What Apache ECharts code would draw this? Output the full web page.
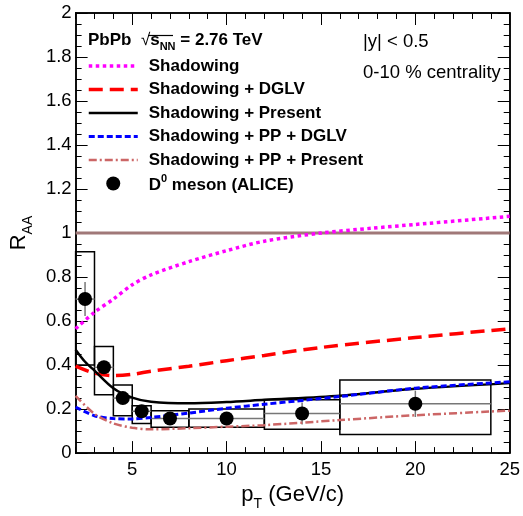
<!DOCTYPE html>
<html>
<head>
<meta charset="UTF-8">
<title>RAA D0 PbPb</title>
<script src="https://cdn.jsdelivr.net/npm/echarts@6.0.0/dist/echarts.min.js"></script>
<style>
html, body { margin: 0; padding: 0; background: #fff; }
#chart { width: 523px; height: 516px; }
</style>
</head>
<body>
<div id="chart"></div>
<script>
// model curves, [pT, RAA]
var shadowing = [[2, 0.565], [3, 0.64], [4, 0.70], [5, 0.765], [6, 0.81], [8, 0.87], [10, 0.92], [12, 0.963], [15, 1.0], [17.7, 1.022], [20, 1.039], [25, 1.076]];
var shadDglv = [[2, 0.395], [3, 0.363], [4, 0.352], [5, 0.358], [6, 0.372], [8, 0.395], [10, 0.42], [12, 0.444], [15, 0.48], [20, 0.525], [25, 0.565]];
var shadPresent = [[2, 0.47], [2.5, 0.415], [3, 0.375], [4, 0.295], [5, 0.252], [6, 0.233], [8, 0.226], [10, 0.232], [12, 0.242], [16, 0.261], [20, 0.292], [25, 0.318]];
var shadPpDglv = [[2, 0.209], [3, 0.17], [4, 0.157], [5, 0.155], [6, 0.162], [8, 0.182], [10, 0.204], [12, 0.222], [16, 0.257], [20, 0.295], [25, 0.324]];
var shadPpPresent = [[2, 0.26], [3, 0.178], [4, 0.135], [5, 0.115], [6, 0.108], [8, 0.113], [10, 0.12], [12, 0.127], [16, 0.15], [20, 0.172], [25, 0.193]];

// ALICE D0 points
var binLo = [2, 3, 4, 5, 6, 8, 12, 16];
var binHi = [3, 4, 5, 6, 8, 12, 16, 24];
var dPt = [2.5, 3.5, 4.5, 5.5, 7, 10, 14, 20];
var dRaa = [0.70, 0.39, 0.25, 0.19, 0.157, 0.157, 0.18, 0.224];
var dStat = [0.077, 0.03, 0.02, 0.015, 0.012, 0.012, 0.05, 0.06];
var dSysLo = [0.40, 0.265, 0.17, 0.135, 0.117, 0.117, 0.108, 0.085];
var dSysHi = [0.915, 0.485, 0.31, 0.215, 0.193, 0.20, 0.242, 0.332];

// axis ticks
var xMajor = [5, 10, 15, 20, 25];
var unityLine = [[2, 1], [25, 1]];

var FONT = 'Liberation Sans, Arial, sans-serif';
var names = ['Shadowing', 'Shadowing + DGLV', 'Shadowing + Present', 'Shadowing + PP + DGLV', 'Shadowing + PP + Present', 'D0 meson (ALICE)'];

// line styles: color, width, dash
var styles = [
	['#ff00ff', 3.5, [3.5, 3.5]],
	['#ff0000', 3.5, [14, 7]],
	['#000000', 2.5, 'solid'],
	['#0000ff', 3, [6, 3]],
	['#cc6666', 2.5, [8, 3, 2, 3]]
];

var boxes = [], errs = [], points = [];
for (var i = 0; i < dPt.length; i++) {
	boxes.push([binLo[i], binHi[i], dSysLo[i], dSysHi[i]]);
	errs.push([binLo[i], binHi[i], dPt[i], dRaa[i], dStat[i]]);
	points.push([dPt[i], dRaa[i]]);
}

// legend entries: hide the symbol on the line samples
var legendData = [];
for (var k = 0; k < names.length; k++) {
	if (k < 5) {
		legendData.push({ name: names[k], itemStyle: { opacity: 0 }, lineStyle: { width: styles[k][1] } });
	} else {
		legendData.push({ name: names[k], icon: 'circle', itemStyle: { color: '#000', opacity: 1 } });
	}
}

function renderBox(params, api) {
	var p0 = api.coord([api.value(0), api.value(2)]);
	var p1 = api.coord([api.value(1), api.value(3)]);
	return {
		type: 'rect',
		shape: { x: p0[0], y: p1[1], width: p1[0] - p0[0], height: p0[1] - p1[1] },
		style: { fill: 'none', stroke: '#000', lineWidth: 1.5 }
	};
}

function renderErr(params, api) {
	var l = api.coord([api.value(0), api.value(3)]);
	var r = api.coord([api.value(1), api.value(3)]);
	var t = api.coord([api.value(2), api.value(3) + api.value(4)]);
	var b = api.coord([api.value(2), api.value(3) - api.value(4)]);
	var st = { stroke: '#777', lineWidth: 1.5 };
	return {
		type: 'group',
		children: [
			{ type: 'line', shape: { x1: l[0], y1: l[1], x2: r[0], y2: r[1] }, style: st },
			{ type: 'line', shape: { x1: t[0], y1: t[1], x2: b[0], y2: b[1] }, style: st }
		]
	};
}

function xAxisCfg(pos, major, withLabels) {
	var a = {
		type: 'value', position: pos, min: 2, max: 25,
		axisLine: { show: true, onZero: false, lineStyle: { color: '#000', width: 1.5 } },
		splitLine: { show: false },
		axisTick: { show: true, inside: true, length: major ? 12 : 6, lineStyle: { color: '#000', width: 1 } },
		axisLabel: { show: false }
	};
	if (major) {
		a.axisTick.customValues = xMajor;
		a.axisLabel = { show: false, customValues: xMajor };
	} else {
		a.interval = 1;
	}
	if (withLabels) {
		a.axisLabel = {
			show: true, customValues: xMajor, color: '#000', fontFamily: FONT, fontSize: 18.5, margin: 7
		};
		a.name = '{m|p}{s|T}{m| (GeV/c)}';
		a.nameLocation = 'middle';
		a.nameGap = 23;
		a.nameTextStyle = {
			rich: {
				m: { fontFamily: FONT, fontSize: 22, color: '#000', verticalAlign: 'bottom', padding: [0, 0, 5, 0] },
				s: { fontFamily: FONT, fontSize: 14, color: '#000', verticalAlign: 'bottom' }
			}
		};
	}
	return a;
}

function yAxisCfg(pos, major, withLabels) {
	var a = {
		type: 'value', position: pos, min: 0, max: 2, interval: major ? 0.2 : 0.05,
		axisLine: { show: true, onZero: false, lineStyle: { color: '#000', width: 1.5 } },
		splitLine: { show: false },
		axisTick: { show: true, inside: true, length: major ? 12 : 6, lineStyle: { color: '#000', width: 1 } },
		axisLabel: { show: false }
	};
	if (withLabels) {
		a.axisLabel = { show: true, color: '#000', fontFamily: FONT, fontSize: 18.5, margin: 4 };
		a.name = '{m|R}{s|AA}';
		a.nameLocation = 'middle';
		a.nameGap = 30;
		a.nameTextStyle = {
			rich: {
				m: { fontFamily: FONT, fontSize: 22, color: '#000', verticalAlign: 'bottom', padding: [0, 0, 5, 0] },
				s: { fontFamily: FONT, fontSize: 14, color: '#000', verticalAlign: 'bottom' }
			}
		};
	}
	return a;
}

function curve(idx, data) {
	var s = styles[idx];
	return {
		name: names[idx], type: 'line', data: data, smooth: 0.3, showSymbol: false, symbol: 'none',
		xAxisIndex: 0, yAxisIndex: 0, z: 3, silent: true,
		lineStyle: { color: s[0], width: s[1], type: s[2] },
		itemStyle: { color: s[0] }
	};
}

var myChart = echarts.init(document.getElementById('chart'));

var option = {
	animation: false,
	backgroundColor: '#fff',
	grid: { left: 65, right: 11, top: 13, bottom: 57 },
	xAxis: [
		xAxisCfg('bottom', false, true),
		xAxisCfg('bottom', true, false),
		xAxisCfg('top', false, false),
		xAxisCfg('top', true, false)
	],
	yAxis: [
		yAxisCfg('left', true, true),
		yAxisCfg('left', false, false),
		yAxisCfg('right', true, false),
		yAxisCfg('right', false, false)
	],
	legend: {
		data: legendData,
		orient: 'vertical',
		left: 87, top: 56,
		padding: 0,
		itemWidth: 49, itemHeight: 14, itemGap: 3.5,
		selectedMode: false,
		textStyle: {
			fontFamily: FONT, fontSize: 17, fontWeight: 'bold', color: '#000', lineHeight: 20, padding: [0, 0, 0, 6],
			rich: {
				b: { fontFamily: FONT, fontSize: 17, fontWeight: 'bold', color: '#000', verticalAlign: 'bottom', lineHeight: 20 },
				sup: { fontFamily: FONT, fontSize: 11, fontWeight: 'bold', color: '#000', verticalAlign: 'top', lineHeight: 20 }
			}
		},
		formatter: function(name) {
			if (name === names[5]) return '{b|D}{sup|0}{b| meson (ALICE)}';
			return name;
		}
	},
	graphic: [
		{
			type: 'text', x: 88, y: 42,
			style: {
				text: '{b|PbPb  }{r|√}{b|s}{s|NN}{b| = 2.76 TeV}',
				verticalAlign: 'middle',
				rich: {
					b: { fontFamily: FONT, fontSize: 17, fontWeight: 'bold', fill: '#000', verticalAlign: 'bottom', padding: [0, 0, 3, 0] },
					r: { fontFamily: FONT, fontSize: 17, fill: '#000', verticalAlign: 'bottom', padding: [0, 0, 3, 0] },
					s: { fontFamily: FONT, fontSize: 11, fontWeight: 'bold', fill: '#000', verticalAlign: 'bottom' }
				}
			}
		},
		{ type: 'line', shape: { x1: 148, y1: 35.5, x2: 173, y2: 35.5 }, style: { stroke: '#000', lineWidth: 1.2 } },
		{ type: 'text', x: 363, y: 42, style: { text: '|y| < 0.5', fontFamily: FONT, fontSize: 18.5, fill: '#000', verticalAlign: 'middle' } },
		{ type: 'text', x: 363, y: 73, style: { text: '0-10 % centrality', fontFamily: FONT, fontSize: 18.5, fill: '#000', verticalAlign: 'middle' } }
	],
	series: [
		{
			name: 'unity', type: 'line', data: unityLine, showSymbol: false, symbol: 'none', silent: true, z: 1,
			lineStyle: { color: '#a07878', width: 3 }
		},
		{ name: 'sys', type: 'custom', renderItem: renderBox, data: boxes, z: 2, silent: true },
		{ name: 'stat', type: 'custom', renderItem: renderErr, data: errs, z: 2, silent: true },
		curve(0, shadowing),
		curve(1, shadDglv),
		curve(2, shadPresent),
		curve(3, shadPpDglv),
		curve(4, shadPpPresent),
		{
			name: names[5], type: 'scatter', data: points, symbol: 'circle', symbolSize: 14, z: 5, silent: true,
			itemStyle: { color: '#000', opacity: 1 }
		}
	]
};

myChart.setOption(option);
</script>
</body>
</html>
